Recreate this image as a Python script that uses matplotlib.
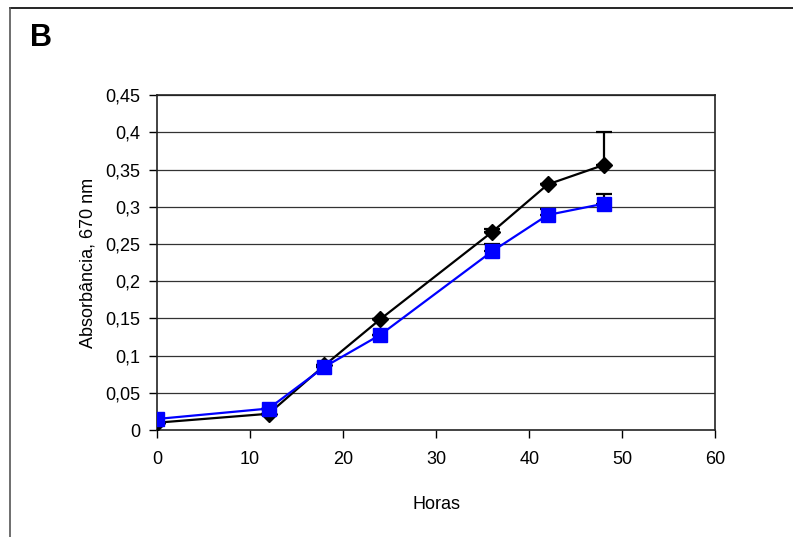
import matplotlib.pyplot as plt
from matplotlib.lines import Line2D
from matplotlib.ticker import FuncFormatter

# Data
horas = [0, 12, 18, 24, 36, 42, 48]
preto = [0.010, 0.022, 0.087, 0.149, 0.266, 0.330, 0.356]
preto_err = [0.0, 0.0, 0.0, 0.0, 0.004, 0.0, 0.044]
azul = [0.015, 0.029, 0.085, 0.128, 0.240, 0.289, 0.304]
azul_err = [0.0, 0.0, 0.0, 0.0, 0.010, 0.008, 0.013]

plt.rcParams["font.family"] = ["Liberation Sans", "DejaVu Sans"]

fig = plt.figure(figsize=(7.93, 5.37), dpi=100)
ax = fig.add_axes([0.198, 0.199, 0.704, 0.624])

for yy in [i * 0.05 for i in range(1, 10)]:
    ax.axhline(yy, color="#333333", lw=0.9, zorder=0)

ax.errorbar(horas, preto, yerr=[[0] * len(preto), preto_err], color="black",
            lw=1.6, marker="D", ms=8, capsize=6, capthick=1.6, elinewidth=1.6,
            zorder=3)
ax.errorbar(horas, azul, yerr=[[0] * len(azul), azul_err], color="#0000ff",
            lw=1.6, marker="s", ms=10, ecolor="black", capsize=6, capthick=1.6,
            elinewidth=1.6, zorder=4)

ax.set_xlim(0, 60)
ax.set_ylim(0, 0.45)
ax.set_xticks(range(0, 61, 10))
ax.set_yticks([i * 0.05 for i in range(10)])
ax.yaxis.set_major_formatter(FuncFormatter(
    lambda v, p: ("%g" % round(v, 2)).replace(".", ",")))
ax.tick_params(direction="out", length=6, width=1, labelsize=13, pad=6)
ax.tick_params(axis="x", pad=9)
for s in ax.spines.values():
    s.set_linewidth(1.2)
    s.set_color("#222222")

ax.set_xlabel("Horas", fontsize=13, labelpad=20)
ax.set_ylabel("Absorbância, 670 nm", fontsize=13, labelpad=6)

fig.text(0.038, 0.915, "B", fontsize=22, fontweight="bold")

# outer frame (top and left edges visible)
fig.add_artist(Line2D([0.0126, 1.0], [0.985, 0.985], color="black", lw=1.2))
fig.add_artist(Line2D([0.0126, 0.0126], [0.0, 0.985], color="#555555", lw=1.2))

fig.savefig("out.png", dpi=100)
